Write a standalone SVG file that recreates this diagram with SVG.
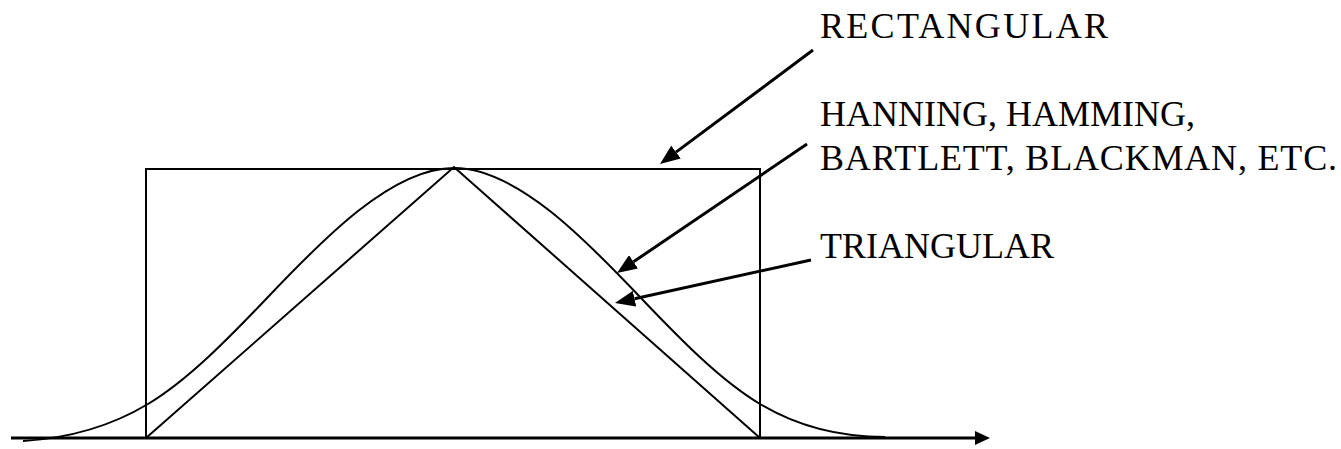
<svg xmlns="http://www.w3.org/2000/svg" width="1341" height="449" viewBox="0 0 1341 449">
  <style>
    .lbl { font-family: "Liberation Serif", "Times New Roman", serif; font-size: 36px; fill: #000; }
    .thin { fill: none; stroke: #000; stroke-width: 2; }
    .thick { fill: none; stroke: #000; stroke-width: 3; }
  </style>
  <defs>
    <marker id="head" markerUnits="userSpaceOnUse" markerWidth="20" markerHeight="16" refX="0" refY="8" orient="auto">
      <path d="M0,0 L20,8 L0,16 z" fill="#000"/>
    </marker>
    <marker id="axisHead" markerUnits="userSpaceOnUse" markerWidth="15" markerHeight="14" refX="0" refY="7" orient="auto">
      <path d="M0,0 L15,7 L0,14 z" fill="#000"/>
    </marker>
  </defs>
  <rect width="1341" height="449" fill="#fff"/>

  <g id="rectangular-window">
    <rect class="thin" x="146" y="169" width="614" height="269"/>
  </g>

  <g id="triangular-window">
    <polyline class="thin" points="146,438 454,167 760,438"/>
  </g>

  <g id="smooth-window">
    <path class="thin" d="M23,441 C73,438 113,425 148,404 C188,380 228,339 268,297 C323,239 392,168 454,168 C516,168 585,239 640,297 C680,339 720,380 760,404 C795,425 835,437 885,437"/>
  </g>

  <g id="axis">
    <line class="thick" x1="11" y1="438" x2="975" y2="438" marker-end="url(#axisHead)"/>
  </g>

  <g id="labels">
    <text class="lbl" x="820" y="38" textLength="288" lengthAdjust="spacing">RECTANGULAR</text>
    <text class="lbl" x="820" y="126">HANNING, HAMMING,</text>
    <text class="lbl" x="820" y="170" textLength="517" lengthAdjust="spacing">BARTLETT, BLACKMAN, ETC.</text>
    <text class="lbl" x="820" y="258">TRIANGULAR</text>
  </g>

  <g id="connectors">
    <line class="thick" x1="813" y1="50" x2="676" y2="152.1" marker-end="url(#head)"/>
    <line class="thick" x1="807" y1="144" x2="633.5" y2="261.8" marker-end="url(#head)"/>
    <line class="thick" x1="811" y1="260" x2="634.5" y2="298.7" marker-end="url(#head)"/>
  </g>
</svg>
